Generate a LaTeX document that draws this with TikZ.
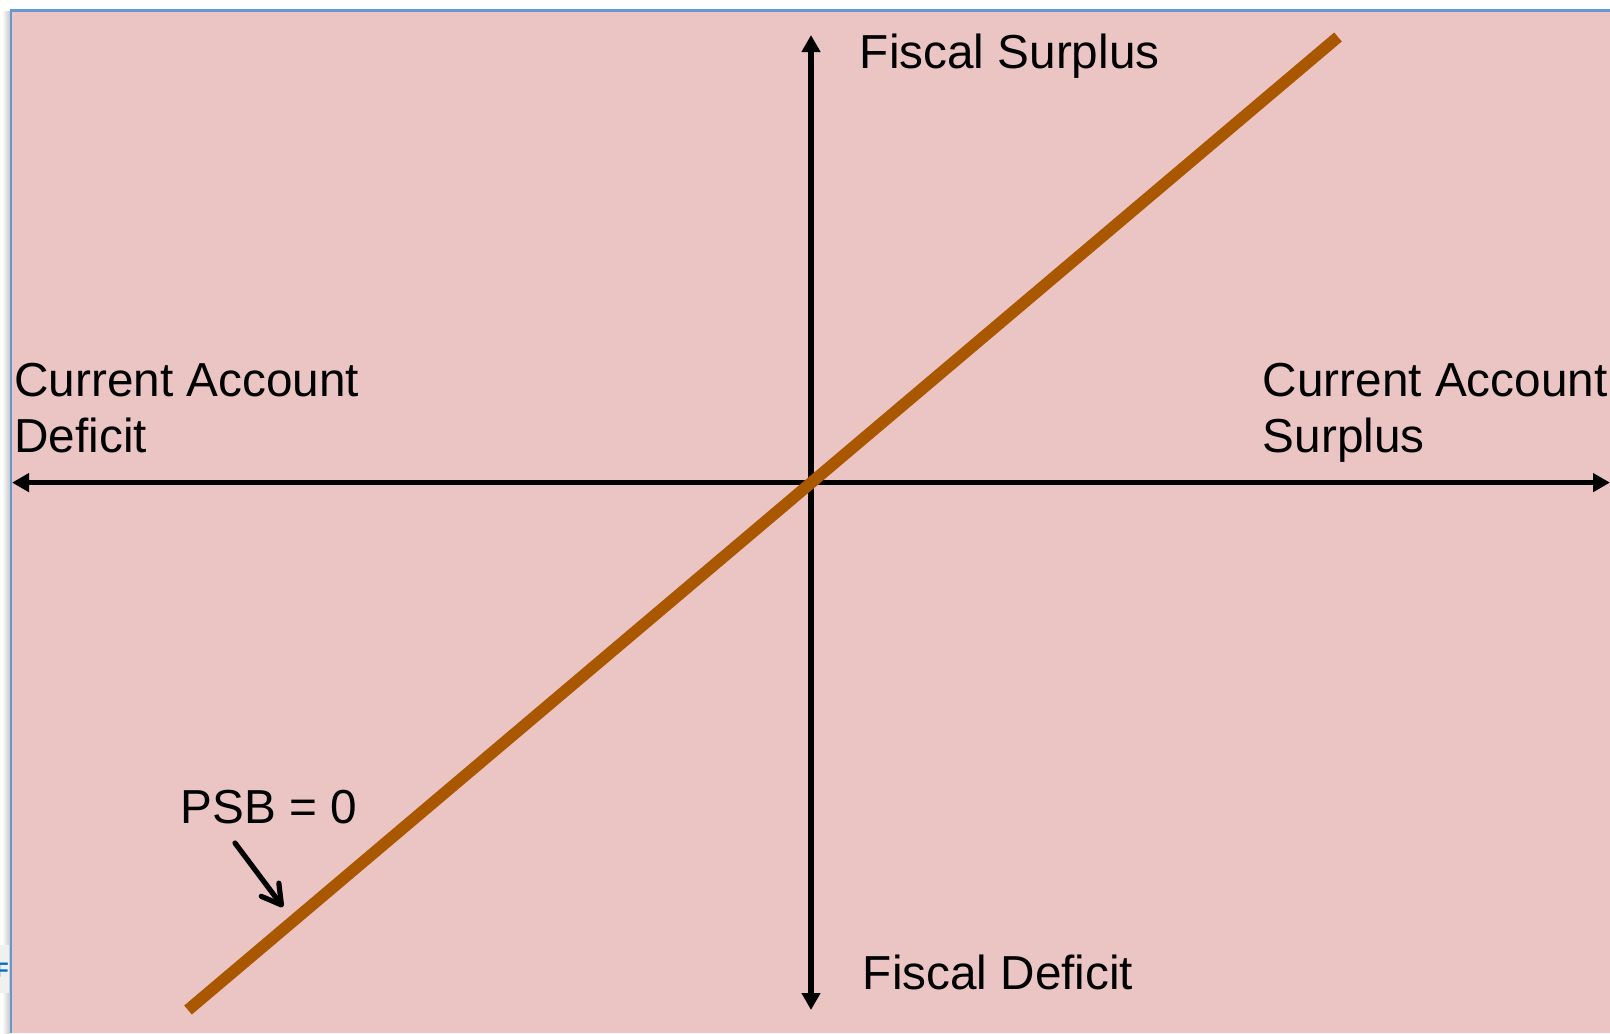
\documentclass[tikz,border=0pt]{standalone}
\usepackage{fontspec}
\setmainfont{Liberation Sans}
\usetikzlibrary{arrows.meta}
\definecolor{bgpink}{RGB}{235,196,196}
\definecolor{frameblue}{RGB}{100,152,210}
\definecolor{psbline}{RGB}{170,88,0}
\definecolor{tabblue}{RGB}{0,112,192}
\tikzset{
  lbl/.style={inner sep=0pt, anchor=base west, font=\fontsize{23.85}{28.2}\selectfont},
  axis/.style={line width=2.8pt, -{Triangle[length=8.5pt,width=9pt]}},
  psb/.style={line width=5.9pt, draw=psbline},
  pointer/.style={line width=2.6pt, line cap=round, -{Straight Barb[length=9.5pt,width=11pt,round]}}
}
\begin{document}
\begin{tikzpicture}[x=0.5pt,y=-0.5pt]
\useasboundingbox (0,0) rectangle (1610,1033);
\fill[white] (0,0) rectangle (1610,1033);
% faint shadow left of the frame
\shade[left color=white, right color=black!22] (2,11) rectangle (10,1033);
% stray tab fragment at the left edge
\begin{scope}
\clip (0,0) rectangle (1610,1033);
\fill[black!6] (0,945) rectangle (9,993);
\node[inner sep=0pt, anchor=base west, text=tabblue, font=\fontsize{10.5}{12}\selectfont\bfseries] (tabF) at (-4.5,977) {F};
\end{scope}
% slide background and frame
\fill[bgpink] (11,11) rectangle (1610,1033);
\draw[frameblue, line width=1.1pt] (11,1033) -- (11,10.5) -- (1610,10.5);
% axes
\coordinate (O) at (811,482.6);
\coordinate (L) at (12,482.6);
\coordinate (R) at (1610,482.6);
\coordinate (T) at (811,35);
\coordinate (B) at (811,1010);
\draw[axis] (O) -- (R);
\draw[axis] (O) -- (L);
\draw[axis] (O) -- (T);
\draw[axis] (O) -- (B);
% PSB = 0 line
\coordinate (P1) at (188,1010);
\coordinate (P2) at (1338,37);
\draw[psb] (P1) -- (P2);
% labels
\node[lbl] (fs) at (859.5,68) {Fiscal Surplus};
\node[lbl] (fd) at (862.5,989) {Fiscal Deficit};
\node[lbl] (cad1) at (14,396) {Current Account};
\node[lbl] (cad2) at (14,452.5) {Deficit};
\node[lbl] (cas1) at (1262.5,396) {Current Account};
\node[lbl] (cas2) at (1262.5,452.5) {Surplus};
\node[lbl] (psbl) at (180,823) {PSB = 0};
% pointer
\coordinate (A1) at (235,843);
\coordinate (A2) at (283,907);
\draw[pointer] (A1) -- (A2);
\end{tikzpicture}
\end{document}
